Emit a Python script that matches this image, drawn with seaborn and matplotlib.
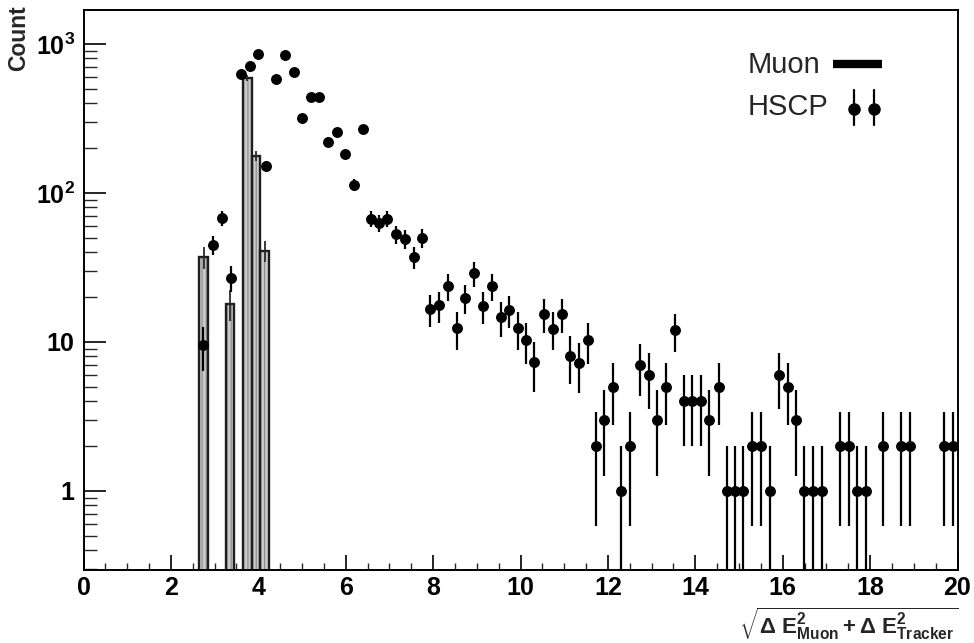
import numpy as np
import pandas as pd
import matplotlib
matplotlib.use("Agg")
import matplotlib.pyplot as plt
import seaborn as sns
from matplotlib.ticker import MultipleLocator, LogLocator, FixedLocator, FixedFormatter, NullFormatter

# ---------------- data ----------------
muon_bin_centers = [2.75, 3.35, 3.75, 3.95, 4.15]
muon_counts = [37, 18, 590, 178, 41]
bin_width = 0.2

hscp_x = [2.74, 2.97, 3.18, 3.37, 3.60, 3.81, 4.00, 4.18, 4.41, 4.61,
          4.82, 5.01, 5.20, 5.40, 5.59, 5.79, 5.98, 6.19, 6.40, 6.57,
          6.77, 6.95, 7.15, 7.35, 7.56, 7.75, 7.93, 8.14, 8.34, 8.54,
          8.74, 8.94, 9.15, 9.35, 9.55, 9.74, 9.94, 10.13, 10.32, 10.54,
          10.74, 10.94, 11.13, 11.34, 11.54, 11.72, 11.92, 12.12, 12.31, 12.51,
          12.73, 12.93, 13.13, 13.33, 13.54, 13.73, 13.92, 14.12, 14.32, 14.54,
          14.72, 14.91, 15.10, 15.30, 15.51, 15.70, 15.92, 16.13, 16.31, 16.49,
          16.69, 16.89, 17.31, 17.51, 17.69, 17.90, 18.30, 18.71, 18.92, 19.70,
          19.90]
hscp_counts = [9.5, 45, 68, 27, 626, 715, 857, 152, 580, 840,
               645, 320, 443, 443, 221, 258, 182, 113, 268, 67,
               63, 67, 53, 49, 37, 50, 16.6, 17.6, 23.8, 12.4,
               19.8, 28.9, 17.4, 23.8, 14.6, 16.4, 12.4, 10.3, 7.3, 15.4,
               12.3, 15.4, 8.1, 7.2, 10.3, 2, 3, 5, 1, 2,
               7, 6, 3, 5, 12, 4, 4, 4, 3, 5,
               1, 1, 1, 2, 2, 1, 6, 5, 3, 1,
               1, 1, 2, 2, 1, 1, 2, 2, 2, 2,
               2]

x_ticks = [0, 2, 4, 6, 8, 10, 12, 14, 16, 18, 20]
y_ticks = [1, 10, 100, 1000]
y_tick_labels = [r"$\mathbf{1}$", r"$\mathbf{10}$", r"$\mathbf{10^{2}}$", r"$\mathbf{10^{3}}$"]
legend_labels = ["Muon", "HSCP"]
x_title = r"$\mathbf{\sqrt{\Delta\ E^{2}_{Muon}+\Delta\ E^{2}_{Tracker}}}$"
y_title = "Count"

# ---------------- style ----------------
sns.set_theme(style="ticks")
plt.rcParams["font.family"] = ["Liberation Sans", "DejaVu Sans"]
plt.rcParams["mathtext.fontset"] = "custom"
plt.rcParams["mathtext.rm"] = "Liberation Sans"
plt.rcParams["mathtext.bf"] = "Liberation Sans:bold"
plt.rcParams["mathtext.it"] = "Liberation Sans:italic"
plt.rcParams["hatch.linewidth"] = 0.8

fig = plt.figure(figsize=(9.74, 6.43), dpi=100)
fig.patch.set_facecolor("white")
ax = fig.add_axes([83.5 / 974, 1 - 570 / 643, 874 / 974, 560 / 643])
ax.set_facecolor("white")
ax.set_yscale("log", nonpositive="clip")

# ---------------- Muon histogram ----------------
muon_df = pd.DataFrame({"x": muon_bin_centers, "n": muon_counts})
edges = [round(v, 3) for v in np.arange(min(muon_bin_centers) - bin_width / 2,
                                        max(muon_bin_centers) + bin_width / 2 + 1e-6, bin_width)]
sns.histplot(data=muon_df, x="x", weights="n", bins=edges, ax=ax,
             color="#cacaca", edgecolor="#8a8a8a", linewidth=0, hatch="||||",
             alpha=1, zorder=1)
sns.histplot(data=muon_df, x="x", weights="n", bins=edges, ax=ax,
             fill=False, color="#1e1e1e", linewidth=1.7, zorder=2)
ax.errorbar(muon_bin_centers, muon_counts, yerr=np.sqrt(muon_counts), fmt="none",
            ecolor="#2a2a2a", elinewidth=1.3, capsize=0, zorder=2)

# ---------------- HSCP points ----------------
ax.errorbar(hscp_x, hscp_counts, yerr=np.sqrt(hscp_counts), fmt="none",
            ecolor="black", elinewidth=1.6, capsize=0, zorder=3)
sns.scatterplot(x=hscp_x, y=hscp_counts, ax=ax, color="black", s=62,
                linewidth=0, marker="o", zorder=4)

# ---------------- axes ----------------
ax.set_xlim(0, 20)
ax.set_ylim(0.295, 1690)
ax.set_xlabel("")
ax.set_ylabel("")
ax.xaxis.set_major_locator(FixedLocator(x_ticks))
ax.xaxis.set_minor_locator(MultipleLocator(0.5))
ax.yaxis.set_major_locator(FixedLocator(y_ticks))
ax.yaxis.set_major_formatter(FixedFormatter(y_tick_labels))
ax.yaxis.set_minor_locator(LogLocator(base=10, subs=np.arange(2, 10) * 1.0, numticks=30))
ax.yaxis.set_minor_formatter(NullFormatter())

ax.tick_params(axis="x", which="major", direction="in", length=11, width=1.2,
               labelsize=18, pad=4, top=False, colors="black")
ax.tick_params(axis="x", which="minor", direction="in", length=5, width=1.0, top=False)
ax.tick_params(axis="y", which="major", direction="in", length=16, width=1.2,
               labelsize=18, pad=6, right=False, colors="black")
ax.tick_params(axis="y", which="minor", direction="in", length=9, width=1.0, right=False)
for lab in ax.get_xticklabels():
    lab.set_fontweight("bold")
for sp in ax.spines.values():
    sp.set_visible(True)
    sp.set_color("black")
    sp.set_linewidth(1.4)

# titles
fig.text(19 / 974, 1 - 5 / 643, y_title, rotation=90, ha="center", va="top",
         fontsize=16.5, fontweight="bold")
fig.text(958 / 974, 1 - 642.5 / 643, x_title, ha="right", va="bottom", fontsize=16)

# ---------------- legend ----------------
ax.text(0.760, 0.887, legend_labels[0], transform=ax.transAxes, fontsize=21,
        va="baseline", ha="left")
ax.plot([0.858, 0.914], [0.903, 0.903], transform=ax.transAxes, color="black",
        lw=6, solid_capstyle="butt")
ax.text(0.760, 0.8125, legend_labels[1], transform=ax.transAxes, fontsize=21,
        va="baseline", ha="left")
for fx in [0.882, 0.905]:
    ax.plot([fx, fx], [0.795, 0.857], transform=ax.transAxes, color="black", lw=1.6)
    ax.plot([fx], [0.823], marker="o", ms=8, color="black", transform=ax.transAxes)

fig.savefig("out.png", dpi=100, facecolor="white")
